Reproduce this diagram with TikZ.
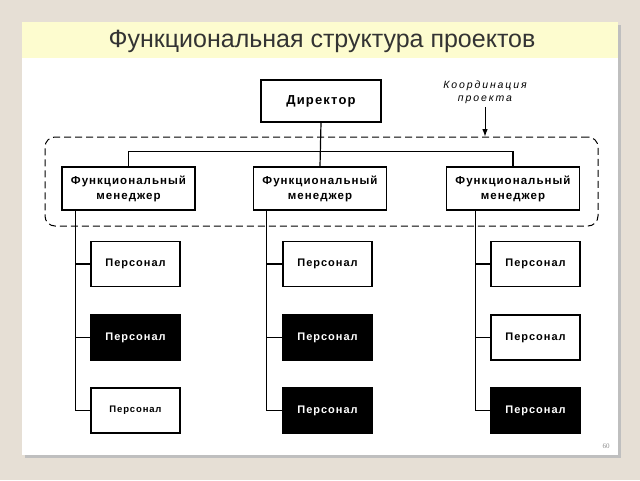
\documentclass[tikz,border=0pt]{standalone}
\usepackage{fontspec}
\setmainfont{Liberation Sans}
\newfontfamily\boxfont[LetterSpace=9]{Liberation Sans}
\newfontfamily\notefont[LetterSpace=18]{Liberation Sans}
\newfontfamily\numfont{Liberation Serif}
\usetikzlibrary{positioning,arrows.meta}

\definecolor{pagebg}{HTML}{E6DFD5}
\definecolor{titlebg}{HTML}{FDFCCF}
\definecolor{titletext}{HTML}{333333}

\begin{document}
\begin{tikzpicture}[
    x=1pt, y=-1pt,
    >=Latex,
    box/.style={
      draw,
      line width=1.4pt,
      fill=white,
      align=center,
      inner sep=0pt,
      font=\boxfont\bfseries\fontsize{11.5}{15}\selectfont
    },
    mgr/.style={box, minimum width=133, minimum height=43},
    staff/.style={box, minimum width=89, minimum height=45,
      font=\boxfont\bfseries\fontsize{11}{12}\selectfont},
    dark/.style={staff, fill=black, text=white},
    link/.style={line width=1.2pt}
  ]
    % slide
    \useasboundingbox (0,0) rectangle (640,480);
    \fill[pagebg] (0,0) rectangle (640,480);
    \fill[black!25] (25,25) rectangle (621,458);
    \fill[white] (22,22) rectangle (618,455);
    \fill[titlebg] (22,22) rectangle (618,58);
    \node[text=titletext, font=\fontsize{25}{28}\selectfont] (title) at (322,41) {Функциональная структура проектов};

    % top
    \node[box, minimum width=120, minimum height=42,
      font=\boxfont\bfseries\fontsize{13}{15}\selectfont] (dir) at (321,101) {Директор};
    \node[draw, dashed, dash pattern=on 7pt off 4pt, line width=1pt,
      rounded corners=10pt, minimum width=553, minimum height=89] (group) at (321.5,181.5) {};
    \node[font=\notefont\itshape\fontsize{10.5}{13}\selectfont, align=center] (coord) at (485,92) {Координация\\проекта};

    % managers
    \node[mgr] (mgrA) at (128.5,188.5) {Функциональный\\менеджер};
    \node[mgr] (mgrB) at (320,188.5) {Функциональный\\менеджер};
    \node[mgr] (mgrC) at (513,188.5) {Функциональный\\менеджер};

    % staff
    \node[staff] (pA1) at (135.5,264) {Персонал};
    \node[dark]  (pA2) at (135.5,337.5) {Персонал};
    \node[staff, font=\boxfont\bfseries\fontsize{9.5}{11}\selectfont] (pA3) at (135.5,410.5) {Персонал};
    \node[staff] (pB1) at (327.5,264) {Персонал};
    \node[dark]  (pB2) at (327.5,337.5) {Персонал};
    \node[dark]  (pB3) at (327.5,410.5) {Персонал};
    \node[staff] (pC1) at (535.5,264) {Персонал};
    \node[staff] (pC2) at (535.5,337.5) {Персонал};
    \node[dark]  (pC3) at (535.5,410.5) {Персонал};

    % connectors
    \draw[link] (dir.south) -- (mgrB.north);
    \draw[link] (mgrA.north) -- ++(0,-15) -| (mgrC.north);
    \draw[->, line width=1pt] (coord.south) -- (coord.south |- group.north);

    \coordinate (trunkA) at ([xshift=14pt]mgrA.south west);
    \coordinate (trunkB) at ([xshift=14pt]mgrB.south west);
    \coordinate (trunkC) at ([xshift=30pt]mgrC.south west);
    \foreach \col in {A,B,C} {
      \draw[link] (trunk\col) |- (p\col3.west);
      \draw[link] (p\col1.west) -- (p\col1.west -| trunk\col);
      \draw[link] (p\col2.west) -- (p\col2.west -| trunk\col);
    }

    \node[text=black!45, font=\numfont\fontsize{7}{8}\selectfont] (pagenum) at (606,446) {60};
  \end{tikzpicture}
\end{document}
